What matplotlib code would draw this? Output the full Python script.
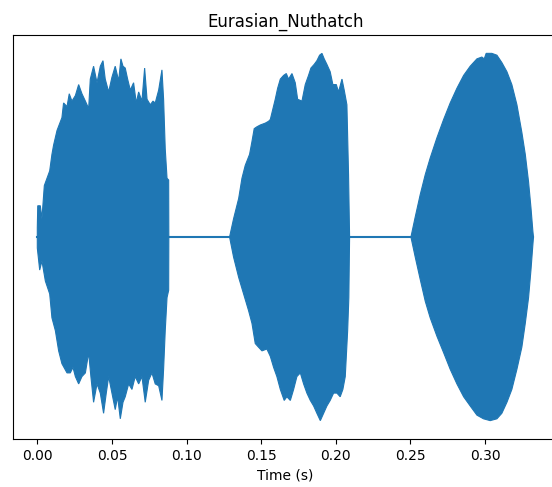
import numpy as np
import matplotlib
matplotlib.use("Agg")
import matplotlib.pyplot as plt

title = "Eurasian_Nuthatch"
xlabel = "Time (s)"
xticks = [0.00, 0.05, 0.10, 0.15, 0.20, 0.25, 0.30]
duration = 0.3324

# Syllable 1 envelope (time s, amplitude)
s1_up_t = [0.0000, 0.0003, 0.0020, 0.0031, 0.0047, 0.0083, 0.0098, 0.0109, 0.0132, 0.0165,
           0.0176, 0.0199, 0.0214, 0.0232, 0.0255, 0.0277, 0.0299, 0.0322, 0.0344, 0.0355,
           0.0377, 0.0400, 0.0422, 0.0440, 0.0455, 0.0478, 0.0500, 0.0522, 0.0545, 0.0560,
           0.0574, 0.0589, 0.0605, 0.0623, 0.0645, 0.0663, 0.0679, 0.0701, 0.0719, 0.0735,
           0.0757, 0.0775, 0.0790, 0.0813, 0.0835, 0.0846, 0.0857, 0.0869, 0.0880, 0.0881]
s1_up_a = [0.05, 0.17, 0.17, 0.10, 0.28, 0.36, 0.45, 0.50, 0.58, 0.65,
           0.73, 0.71, 0.78, 0.74, 0.77, 0.83, 0.78, 0.74, 0.70, 0.86,
           0.93, 0.84, 0.93, 0.96, 0.86, 0.79, 0.87, 0.93, 0.85, 0.97,
           0.93, 0.92, 0.86, 0.80, 0.84, 0.73, 0.79, 0.74, 0.92, 0.75,
           0.72, 0.74, 0.73, 0.80, 0.91, 0.75, 0.48, 0.32, 0.31, 0.00]
s1_lo_t = [0.0000, 0.0016, 0.0031, 0.0054, 0.0083, 0.0098, 0.0121, 0.0143, 0.0165, 0.0199,
           0.0221, 0.0239, 0.0255, 0.0277, 0.0299, 0.0322, 0.0344, 0.0359, 0.0377, 0.0400,
           0.0422, 0.0444, 0.0462, 0.0478, 0.0500, 0.0522, 0.0538, 0.0556, 0.0574, 0.0589,
           0.0612, 0.0634, 0.0656, 0.0679, 0.0701, 0.0723, 0.0746, 0.0768, 0.0790, 0.0813,
           0.0835, 0.0846, 0.0857, 0.0869, 0.0880, 0.0881]
s1_lo_a = [0.06, 0.18, 0.13, 0.24, 0.31, 0.44, 0.51, 0.62, 0.69, 0.74,
           0.74, 0.71, 0.76, 0.80, 0.76, 0.74, 0.63, 0.76, 0.90, 0.80,
           0.85, 0.96, 0.85, 0.76, 0.85, 0.94, 0.87, 0.99, 0.90, 0.87,
           0.80, 0.83, 0.76, 0.80, 0.76, 0.90, 0.78, 0.74, 0.80, 0.81,
           0.89, 0.72, 0.51, 0.33, 0.29, 0.00]

# Syllable 2 envelope
s2_up_t = [0.1288, 0.1315, 0.1349, 0.1371, 0.1393, 0.1422, 0.1438, 0.1453, 0.1471, 0.1494,
           0.1527, 0.1549, 0.1561, 0.1579, 0.1594, 0.1610, 0.1628, 0.1650, 0.1668, 0.1683,
           0.1706, 0.1728, 0.1744, 0.1773, 0.1795, 0.1817, 0.1833, 0.1855, 0.1873, 0.1891,
           0.1907, 0.1922, 0.1940, 0.1962, 0.1980, 0.2003, 0.2018, 0.2041, 0.2056, 0.2074,
           0.2085, 0.2092]
s2_up_a = [0.00, 0.10, 0.21, 0.32, 0.39, 0.45, 0.52, 0.59, 0.60, 0.61,
           0.62, 0.63, 0.64, 0.70, 0.75, 0.81, 0.86, 0.88, 0.89, 0.86,
           0.89, 0.84, 0.75, 0.74, 0.83, 0.88, 0.92, 0.94, 0.96, 0.99,
           1.00, 0.97, 0.94, 0.90, 0.83, 0.83, 0.79, 0.86, 0.80, 0.72,
           0.34, 0.00]
s2_lo_t = [0.1288, 0.1315, 0.1349, 0.1382, 0.1415, 0.1438, 0.1460, 0.1482, 0.1505, 0.1538,
           0.1561, 0.1583, 0.1605, 0.1628, 0.1654, 0.1672, 0.1695, 0.1717, 0.1739, 0.1762,
           0.1784, 0.1806, 0.1829, 0.1851, 0.1873, 0.1896, 0.1918, 0.1940, 0.1962, 0.1985,
           0.2007, 0.2029, 0.2047, 0.2063, 0.2079, 0.2087, 0.2092]
s2_lo_a = [0.00, 0.11, 0.22, 0.31, 0.40, 0.47, 0.58, 0.60, 0.62, 0.61,
           0.65, 0.71, 0.76, 0.83, 0.89, 0.87, 0.89, 0.83, 0.76, 0.74,
           0.80, 0.85, 0.89, 0.92, 0.96, 1.00, 0.96, 0.92, 0.89, 0.85,
           0.85, 0.87, 0.83, 0.76, 0.51, 0.33, 0.00]

# Syllable 3 envelope
s3_up_t = [0.2503, 0.2532, 0.2565, 0.2599, 0.2632, 0.2677, 0.2722, 0.2766, 0.2811, 0.2856,
           0.2900, 0.2945, 0.2978, 0.2994, 0.3007, 0.3045, 0.3079, 0.3112, 0.3146, 0.3179,
           0.3213, 0.3246, 0.3269, 0.3291, 0.3307, 0.3320, 0.3324]
s3_up_a = [0.00, 0.11, 0.23, 0.34, 0.43, 0.54, 0.64, 0.73, 0.81, 0.88,
           0.93, 0.97, 0.98, 0.97, 1.00, 1.00, 0.99, 0.95, 0.90, 0.83,
           0.72, 0.57, 0.45, 0.30, 0.16, 0.03, 0.00]
s3_lo_t = [0.2503, 0.2532, 0.2565, 0.2599, 0.2632, 0.2677, 0.2722, 0.2766, 0.2811, 0.2856,
           0.2900, 0.2945, 0.2989, 0.3034, 0.3079, 0.3112, 0.3146, 0.3179, 0.3213, 0.3246,
           0.3269, 0.3291, 0.3307, 0.3320, 0.3324]
s3_lo_a = [0.00, 0.11, 0.23, 0.35, 0.44, 0.54, 0.63, 0.72, 0.80, 0.87,
           0.92, 0.97, 0.99, 1.00, 0.99, 0.96, 0.90, 0.83, 0.72, 0.60,
           0.47, 0.33, 0.18, 0.04, 0.00]

color = "#1f77b4"

fig = plt.figure(figsize=(5.52, 4.87), dpi=100)
ax = fig.add_axes([12.5 / 552, 48 / 487, 545.8 / 552, 404 / 487])

ax.plot([0.0, duration], [0.0, 0.0], color=color, lw=1.5)

segments = [(s1_up_t, s1_up_a, s1_lo_t, s1_lo_a),
            (s2_up_t, s2_up_a, s2_lo_t, s2_lo_a),
            (s3_up_t, s3_up_a, s3_lo_t, s3_lo_a)]
for ut, ua, lt, la in segments:
    xs = np.concatenate([np.array(ut), np.array(lt)[::-1]])
    ys = np.concatenate([np.array(ua), -np.array(la)[::-1]])
    ax.fill(xs, ys, color=color, lw=0.8, edgecolor=color)

ax.set_title(title, fontsize=12)
ax.set_xlabel(xlabel, fontsize=10)
ax.set_xticks(xticks)
ax.set_xticklabels([f"{v:.2f}" for v in xticks])
ax.set_yticks([])
ax.margins(x=0.05, y=0.05)

fig.savefig("out.png", dpi=100)
